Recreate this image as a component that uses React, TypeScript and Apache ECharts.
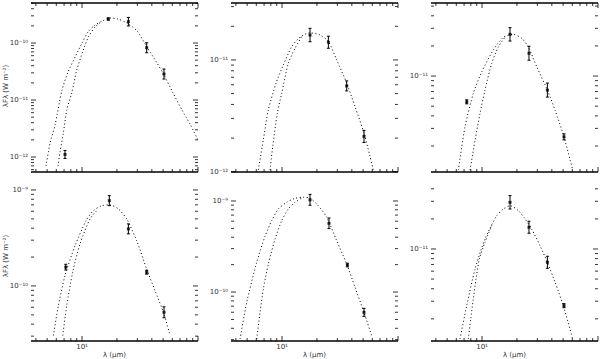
import React, { useEffect, useRef } from "react";
import * as echarts from "echarts";

// ---------- shared axis data ----------
const xRange = [3.63, 100];
const xMajorTicks = [10, 100];
const xMinorTicks = [4, 5, 6, 7, 8, 9, 20, 30, 40, 50, 60, 70, 80, 90];
const xLabelTicks = [10];
const xLabelTexts = ["10¹"];
const xTitle = "λ (μm)";
const yTitle = "λFλ (W m⁻²)";

// ---------- panel 1 ----------
const p1YRange = [5.46e-13, 5.04e-10];
const p1Outer = [[4.89, 6.95e-13], [5.3, 1.76e-12], [5.85, 3.64e-12], [6.72, 1.5e-11], [7.57, 3.1e-11], [8.71, 5.67e-11], [10.0, 1.0e-10], [11.26, 1.56e-10], [12.94, 2.07e-10], [14.87, 2.43e-10], [17.43, 2.75e-10], [20.4, 2.64e-10], [24.4, 2.24e-10], [29.8, 1.63e-10], [36.3, 8.5e-11], [44.3, 4.46e-11], [50.9, 2.75e-11], [60.9, 1.33e-11], [72.8, 6.68e-12], [85.3, 3.79e-12], [100, 1.99e-12]];
const p1Inner = [[6.21, 6.95e-13], [6.46, 1.22e-12], [6.9, 2.64e-12], [7.38, 6.68e-12], [8.15, 1.33e-11], [9.0, 3.36e-11], [10.26, 7.54e-11], [11.33, 1.27e-10], [12.94, 1.91e-10], [14.87, 2.43e-10]];
const p1Lambda = [7.13, 16.85, 25.1, 36.1, 50.9];
const p1Flux = [1.11e-12, 2.64e-10, 2.37e-10, 8.27e-11, 2.86e-11];
const p1Err = [0.07, 0.02, 0.075, 0.088, 0.088];

// ---------- panel 2 ----------
const p2YRange = [0.995e-12, 3.23e-11];
const p2Outer = [[6.25, 1.04e-12], [6.9, 1.93e-12], [7.62, 3.58e-12], [8.88, 6.19e-12], [10.26, 9.02e-12], [12.12, 1.31e-11], [14.3, 1.6e-11], [17.43, 1.75e-11], [21.27, 1.67e-11], [25.1, 1.46e-11], [29.6, 1.0e-11], [36.1, 6.19e-12], [42.6, 3.83e-12], [50.9, 2.21e-12], [57.4, 1.37e-12], [61.2, 1.04e-12]];
const p2Inner = [[7.88, 1.04e-12], [8.31, 1.68e-12], [9.11, 3.34e-12], [9.94, 5.04e-12], [11.33, 9.34e-12], [12.94, 1.27e-11], [14.78, 1.62e-11]];
const p2Lambda = [17.43, 25.1, 36.1, 50.9];
const p2Flux = [1.67e-11, 1.44e-11, 5.86e-12, 2.07e-12];
const p2Err = [0.06, 0.054, 0.045, 0.054];

// ---------- panel 3 ----------
const p3YRange = [1.1e-12, 5.37e-11];
const p3Outer = [[6.25, 1.15e-12], [7.13, 3.11e-12], [8.41, 6.71e-12], [9.94, 1.1e-11], [12.52, 1.82e-11], [15.26, 2.44e-11], [18.61, 2.61e-11], [21.99, 2.38e-11], [25.06, 1.96e-11], [29.6, 1.24e-11], [36.6, 7.24e-12], [42.6, 4.57e-12], [50.9, 2.47e-12], [60.5, 1.15e-12]];
const p3Inner = [[7.88, 1.15e-12], [8.71, 2.29e-12], [9.61, 4.24e-12], [10.61, 7.24e-12], [12.12, 1.34e-11], [13.82, 1.96e-11], [15.79, 2.44e-11]];
const p3Lambda = [7.38, 17.43, 25.4, 36.6, 50.9];
const p3Flux = [5.53e-12, 2.61e-11, 1.69e-11, 7.24e-12, 2.47e-12];
const p3Err = [0.02, 0.067, 0.07, 0.07, 0.03];

// ---------- panel 4 ----------
const p4YRange = [2.67e-11, 1.27e-9];
const p4Outer = [[5.66, 3.04e-11], [6.25, 6.24e-11], [7.13, 1.28e-10], [8.71, 2.63e-10], [10.83, 4.79e-10], [12.52, 6.08e-10], [14.78, 6.86e-10], [17.43, 6.98e-10], [20.55, 6.34e-10], [24.28, 4.99e-10], [29.6, 2.96e-10], [36.1, 1.5e-10], [42.6, 8.93e-11], [50.9, 5.11e-11], [57.4, 3.04e-11]];
const p4Inner = [[6.82, 3.04e-11], [7.38, 6.24e-11], [8.31, 1.39e-10], [9.61, 2.74e-10], [11.72, 4.99e-10], [13.82, 6.34e-10]];
const p4Lambda = [7.24, 17.19, 25.1, 36.1, 50.9];
const p4Flux = [1.57e-10, 7.74e-10, 3.93e-10, 1.39e-10, 5.32e-11];
const p4Err = [0.03, 0.052, 0.052, 0.02, 0.057];

// ---------- panel 5 ----------
const p5YRange = [2.9e-11, 1.7e-9];
const p5Outer = [[4.35, 3.05e-11], [4.96, 7.71e-11], [6.05, 2.12e-10], [7.13, 4.09e-10], [8.15, 6.08e-10], [9.29, 8.17e-10], [10.98, 9.68e-10], [12.94, 1.07e-9], [15.26, 1.1e-9], [17.43, 1.07e-9], [20.55, 8.87e-10], [24.28, 6.62e-10], [29.6, 3.66e-10], [36.1, 2.03e-10], [42.6, 1.13e-10], [50.9, 5.98e-11], [59.3, 3.31e-11]];
const p5Inner = [[6.05, 3.05e-11], [6.46, 5.98e-11], [6.9, 1.08e-10], [7.62, 2.03e-10], [8.71, 3.82e-10], [9.94, 6.08e-10], [11.33, 8.17e-10], [12.94, 9.68e-10], [15.26, 1.1e-9]];
const p5Lambda = [17.43, 25.4, 36.6, 50.9];
const p5Flux = [1.03e-9, 5.69e-10, 1.98e-10, 5.98e-11];
const p5Err = [0.06, 0.058, 0.02, 0.044];

// ---------- panel 6 ----------
const p6YRange = [1.2e-12, 4.9e-11];
const p6Outer = [[6.46, 1.26e-12], [7.38, 2.71e-12], [8.71, 6.31e-12], [10.61, 1.26e-11], [13.38, 2.15e-11], [15.26, 2.51e-11], [17.43, 2.71e-11], [20.55, 2.42e-11], [23.49, 2.0e-11], [26.8, 1.58e-11], [31.6, 1.08e-11], [36.6, 7.36e-12], [42.6, 4.65e-12], [50.2, 2.71e-12], [60.5, 1.26e-12]];
const p6Inner = [[7.62, 1.26e-12], [7.99, 2.0e-12], [8.41, 3.16e-12], [8.88, 5.01e-12], [9.48, 7.94e-12], [10.61, 1.17e-11], [12.2, 1.75e-11]];
const p6Lambda = [17.43, 25.4, 36.6, 50.9];
const p6Flux = [2.93e-11, 1.65e-11, 7.36e-12, 2.71e-12];
const p6Err = [0.067, 0.06, 0.06, 0.02];

const panels = [
  { yr: p1YRange, outer: p1Outer, inner: p1Inner, lam: p1Lambda, flux: p1Flux, err: p1Err },
  { yr: p2YRange, outer: p2Outer, inner: p2Inner, lam: p2Lambda, flux: p2Flux, err: p2Err },
  { yr: p3YRange, outer: p3Outer, inner: p3Inner, lam: p3Lambda, flux: p3Flux, err: p3Err },
  { yr: p4YRange, outer: p4Outer, inner: p4Inner, lam: p4Lambda, flux: p4Flux, err: p4Err },
  { yr: p5YRange, outer: p5Outer, inner: p5Inner, lam: p5Lambda, flux: p5Flux, err: p5Err },
  { yr: p6YRange, outer: p6Outer, inner: p6Inner, lam: p6Lambda, flux: p6Flux, err: p6Err },
];

// ---------- layout ----------
const colLefts = [31, 231, 431];
const colWidth = 167;
const rowTops = [3, 180];
const rowHeights = [169, 161];
const FONT = "DejaVu Sans";
const TEXT_COLOR = "#333";

const SUP: Record<string, string> = { "-": "⁻", "0": "⁰", "1": "¹", "2": "²", "3": "³", "4": "⁴", "5": "⁵", "6": "⁶", "7": "⁷", "8": "⁸", "9": "⁹" };
const powLabel = (e: number) => "10" + String(e).split("").map((c) => SUP[c] || c).join("");

function yTicksFor(yr: number[]) {
  const lo = Math.floor(Math.log10(yr[0])) - 1;
  const hi = Math.ceil(Math.log10(yr[1])) + 1;
  const major: { v: number; e: number }[] = [];
  const minor: number[] = [];
  for (let k = lo; k <= hi; k++) {
    for (let m = 1; m <= 9; m++) {
      const v = m * Math.pow(10, k);
      if (v < yr[0] * 0.999 || v > yr[1] * 1.001) continue;
      if (m === 1) major.push({ v, e: k });
      else minor.push(v);
    }
  }
  return { major, minor };
}

function makeAxesRenderer(panelIdx: number) {
  const row = Math.floor(panelIdx / 3);
  const col = panelIdx % 3;
  const p = panels[panelIdx];
  const yt = yTicksFor(p.yr);
  const yMid = Math.sqrt(p.yr[0] * p.yr[1]);
  return (params: any, api: any) => {
    const cs = params.coordSys;
    const x0 = cs.x, y0 = cs.y, w = cs.width, h = cs.height;
    const ch: any[] = [];
    const ln = (x1: number, y1: number, x2: number, y2: number, lw: number) => ({
      type: "line",
      shape: { x1, y1, x2, y2 },
      style: { stroke: "#000", lineWidth: lw },
    });
    const txt = (x: number, y: number, text: string, align: string, vAlign: string, size: number, rotation = 0) => ({
      type: "text",
      x,
      y,
      rotation,
      style: { text, fill: TEXT_COLOR, fontSize: size, fontFamily: FONT, align, verticalAlign: vAlign },
    });
    // frame
    ch.push(ln(x0, y0 + h, x0 + w, y0 + h, 1.6));
    if (row === 0) ch.push(ln(x0, y0, x0 + w, y0, 1.6));
    // x ticks
    const xt = (v: number, len: number) => {
      if (v < xRange[0] || v > xRange[1]) return;
      const px = api.coord([v, yMid])[0];
      ch.push(ln(px, y0 + h, px, y0 + h - len, 0.8));
      if (row === 0) ch.push(ln(px, y0, px, y0 + len, 0.8));
    };
    xMajorTicks.forEach((v) => xt(v, 5));
    xMinorTicks.forEach((v) => xt(v, 3));
    // y ticks
    const yTick = (v: number, len: number) => {
      const py = api.coord([10, v])[1];
      ch.push(ln(x0, py, x0 + len, py, 0.8));
      ch.push(ln(x0 + w, py, x0 + w - len, py, 0.8));
      return py;
    };
    yt.major.forEach((m) => {
      const py = yTick(m.v, 5);
      ch.push(txt(x0 - 3, py, powLabel(m.e), "right", "middle", 7));
    });
    yt.minor.forEach((v) => yTick(v, 3));
    // x labels & title for bottom row
    if (row === 1) {
      xLabelTicks.forEach((v, i) => {
        const px = api.coord([v, yMid])[0];
        ch.push(txt(px, y0 + h + 2, xLabelTexts[i], "center", "top", 7));
      });
      ch.push(txt(x0 + w / 2, y0 + h + 10, xTitle, "center", "top", 7));
    }
    if (col === 0) {
      ch.push(txt(6, row === 0 ? 86 : 256, yTitle, "center", "middle", 7, Math.PI / 2));
    }
    return { type: "group", children: ch };
  };
}

function errRenderer(params: any, api: any) {
  const x = api.value(0);
  const a = api.coord([x, api.value(1)]);
  const b = api.coord([x, api.value(2)]);
  const cap = 1.5;
  return {
    type: "group",
    children: [
      { type: "line", shape: { x1: a[0], y1: a[1], x2: b[0], y2: b[1] }, style: { stroke: "#000", lineWidth: 1 } },
      { type: "line", shape: { x1: a[0] - cap, y1: a[1], x2: a[0] + cap, y2: a[1] }, style: { stroke: "#000", lineWidth: 1 } },
      { type: "line", shape: { x1: b[0] - cap, y1: b[1], x2: b[0] + cap, y2: b[1] }, style: { stroke: "#000", lineWidth: 1 } },
    ],
  };
}

function buildOption() {
  const grid: any[] = [];
  const xAxis: any[] = [];
  const yAxis: any[] = [];
  const series: any[] = [];
  panels.forEach((p, i) => {
    const row = Math.floor(i / 3);
    const col = i % 3;
    grid.push({ left: colLefts[col], top: rowTops[row], width: colWidth, height: rowHeights[row], containLabel: false });
    const hidden = { axisLine: { show: false }, axisTick: { show: false }, axisLabel: { show: false }, splitLine: { show: false } };
    xAxis.push({ type: "log", logBase: 10, gridIndex: i, min: xRange[0], max: xRange[1], ...hidden });
    yAxis.push({ type: "log", logBase: 10, gridIndex: i, min: p.yr[0], max: p.yr[1], ...hidden });
    const dotted = { color: "#000", width: 1, type: [1, 2.5] };
    series.push({ type: "line", xAxisIndex: i, yAxisIndex: i, data: p.outer, showSymbol: false, smooth: 0.25, lineStyle: dotted, silent: true });
    series.push({ type: "line", xAxisIndex: i, yAxisIndex: i, data: p.inner, showSymbol: false, smooth: 0.25, lineStyle: dotted, silent: true });
    series.push({
      type: "custom",
      xAxisIndex: i,
      yAxisIndex: i,
      renderItem: errRenderer,
      encode: { x: 0, y: [1, 2] },
      data: p.lam.map((l, j) => [l, p.flux[j] / Math.pow(10, p.err[j]), p.flux[j] * Math.pow(10, p.err[j])]),
      silent: true,
    });
    series.push({
      type: "scatter",
      xAxisIndex: i,
      yAxisIndex: i,
      data: p.lam.map((l, j) => [l, p.flux[j]]),
      symbol: "rect",
      symbolSize: 3,
      itemStyle: { color: "#000" },
      silent: true,
    });
    series.push({
      type: "custom",
      xAxisIndex: i,
      yAxisIndex: i,
      renderItem: makeAxesRenderer(i),
      data: [[10, Math.sqrt(p.yr[0] * p.yr[1])]],
      silent: true,
      z: 10,
    });
  });
  return { animation: false, backgroundColor: "#fff", grid, xAxis, yAxis, series };
}

export default function App() {
  const ref = useRef<HTMLDivElement>(null);
  useEffect(() => {
    if (!ref.current) return;
    const chart = echarts.init(ref.current, undefined, { renderer: "svg" });
    chart.setOption(buildOption() as any);
    return () => chart.dispose();
  }, []);
  return <div ref={ref} style={{ position: "fixed", left: 0, top: 0, width: 600, height: 359, background: "#fff" }} />;
}
